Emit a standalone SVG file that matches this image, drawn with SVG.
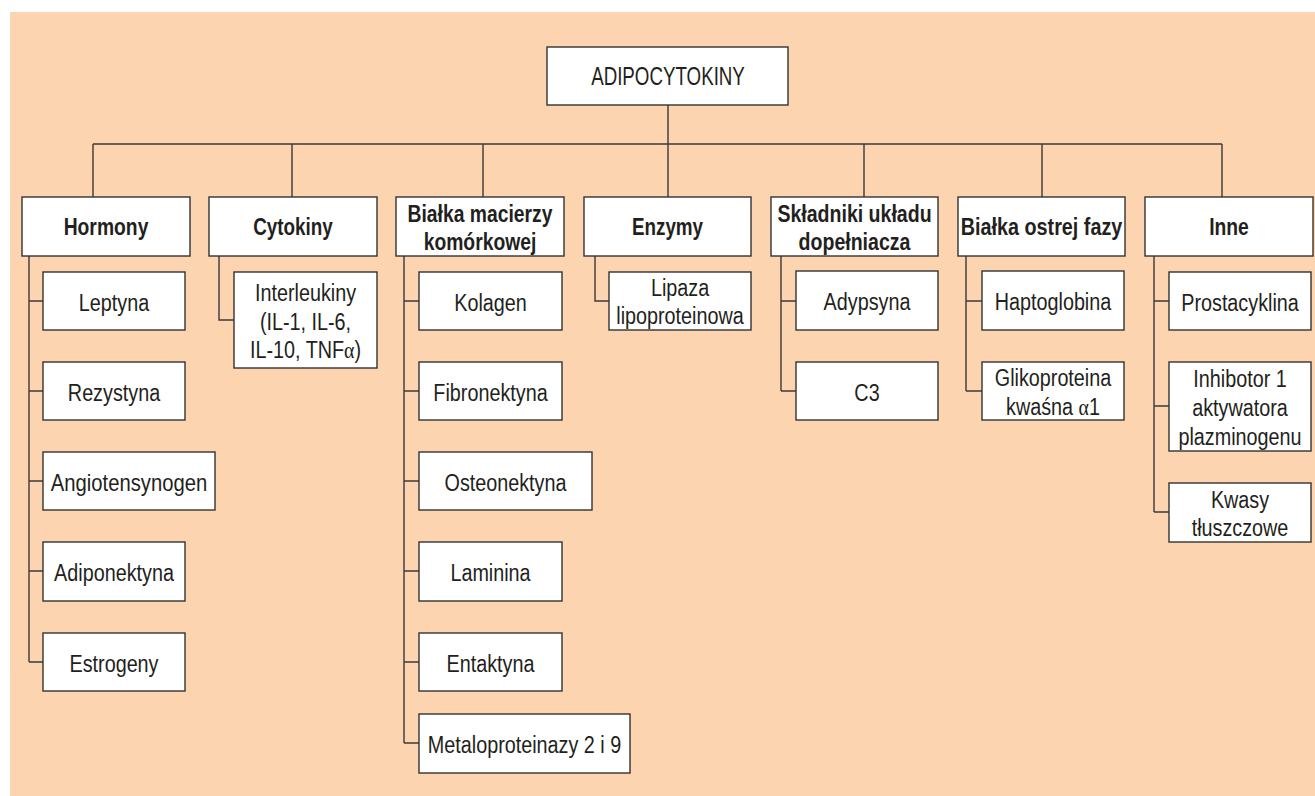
<svg xmlns="http://www.w3.org/2000/svg" width="1315" height="796" viewBox="0 0 1315 796">
<style>
.bg{fill:#FCD4B0}
.box{fill:#fff;stroke:#333;stroke-width:1.4}
.ln{fill:none;stroke:#3a3a3a;stroke-width:1.4}
text{font-family:"Liberation Sans",Arial,sans-serif;fill:#231f20;text-anchor:middle}
.t{font-size:23px}
.b{font-size:23px;font-weight:bold}
.r{font-size:25px}
.g{font-family:"Liberation Serif",serif}
</style>
<rect class="bg" x="10" y="12" width="1305" height="784"/>
<g id="connectors">
<path class="ln" d="M668 105V144M93 144H1222M93 144V197M292 144V197M483 144V197M668 144V197M864 144V197M1042 144V197M1222 144V197"/>
<path class="ln" d="M29 256V662M29 301H43M29 391H43M29 481H43M29 571H43M29 662H43"/>
<path class="ln" d="M219 256V320H234"/>
<path class="ln" d="M404 256V743M404 301H419M404 391H419M404 481H419M404 571H419M404 662H419M404 743H419"/>
<path class="ln" d="M595 256V301H609"/>
<path class="ln" d="M781 256V391M781 301H796M781 391H796"/>
<path class="ln" d="M966 256V391M966 301H982M966 391H982"/>
<path class="ln" d="M1154 256V512M1154 301H1169M1154 406H1169M1154 512H1169"/>
</g>
<g id="root"><rect class="box" x="547" y="47" width="241" height="58"/><text class="r" transform="translate(668 85) scale(0.75 1)">ADIPOCYTOKINY</text></g>
<g id="cat-hormony"><rect class="box" x="22" y="197" width="168" height="59"/><text class="b" transform="translate(106 235) scale(0.84 1)">Hormony</text></g>
<g id="cat-cytokiny"><rect class="box" x="209" y="197" width="168" height="59"/><text class="b" transform="translate(293 235) scale(0.82 1)">Cytokiny</text></g>
<g id="cat-bialka-macierzy"><rect class="box" x="396" y="197" width="168" height="59"/><text class="b" transform="translate(480 221.5) scale(0.84 1)">Białka macierzy</text><text class="b" transform="translate(480 249.5) scale(0.84 1)">komórkowej</text></g>
<g id="cat-enzymy"><rect class="box" x="584" y="197" width="167" height="59"/><text class="b" transform="translate(667.5 235) scale(0.82 1)">Enzymy</text></g>
<g id="cat-skladniki"><rect class="box" x="771" y="197" width="167" height="59"/><text class="b" transform="translate(854.5 221.5) scale(0.85 1)">Składniki układu</text><text class="b" transform="translate(854.5 249.5) scale(0.85 1)">dopełniacza</text></g>
<g id="cat-bialka-ostrej"><rect class="box" x="958" y="197" width="167" height="59"/><text class="b" transform="translate(1041.5 235) scale(0.86 1)">Białka ostrej fazy</text></g>
<g id="cat-inne"><rect class="box" x="1145" y="197" width="168" height="59"/><text class="b" transform="translate(1229 235) scale(0.84 1)">Inne</text></g>

<g id="leptyna"><rect class="box" x="43" y="272" width="142" height="58"/><text class="t" transform="translate(114 310.5) scale(0.86 1)">Leptyna</text></g>
<g id="rezystyna"><rect class="box" x="43" y="362" width="142" height="58"/><text class="t" transform="translate(114 400.5) scale(0.86 1)">Rezystyna</text></g>
<g id="angiotensynogen"><rect class="box" x="43" y="452" width="172" height="58"/><text class="t" transform="translate(129 490.5) scale(0.88 1)">Angiotensynogen</text></g>
<g id="adiponektyna"><rect class="box" x="43" y="542" width="142" height="59"/><text class="t" transform="translate(114 580.5) scale(0.86 1)">Adiponektyna</text></g>
<g id="estrogeny"><rect class="box" x="43" y="633" width="142" height="58"/><text class="t" transform="translate(114 671.5) scale(0.86 1)">Estrogeny</text></g>

<g id="interleukiny"><rect class="box" x="234" y="272" width="143" height="96"/><text class="t" transform="translate(305.5 301) scale(0.86 1)">Interleukiny</text><text class="t" transform="translate(305.5 329.5) scale(0.86 1)">(IL-1, IL-6,</text><text class="t" transform="translate(305.5 358) scale(0.86 1)">IL-10, TNF<tspan class="g">α</tspan>)</text></g>

<g id="kolagen"><rect class="box" x="419" y="272" width="143" height="58"/><text class="t" transform="translate(490.5 310.5) scale(0.86 1)">Kolagen</text></g>
<g id="fibronektyna"><rect class="box" x="419" y="362" width="143" height="58"/><text class="t" transform="translate(490.5 400.5) scale(0.86 1)">Fibronektyna</text></g>
<g id="osteonektyna"><rect class="box" x="419" y="452" width="173" height="58"/><text class="t" transform="translate(505.5 490.5) scale(0.86 1)">Osteonektyna</text></g>
<g id="laminina"><rect class="box" x="419" y="542" width="143" height="59"/><text class="t" transform="translate(490.5 580.5) scale(0.86 1)">Laminina</text></g>
<g id="entaktyna"><rect class="box" x="419" y="633" width="143" height="58"/><text class="t" transform="translate(490.5 671.5) scale(0.86 1)">Entaktyna</text></g>
<g id="metaloproteinazy"><rect class="box" x="419" y="714" width="211" height="59"/><text class="t" transform="translate(524.5 752.5) scale(0.86 1)">Metaloproteinazy 2 i 9</text></g>

<g id="lipaza"><rect class="box" x="609" y="272" width="142" height="58"/><text class="t" transform="translate(680 296) scale(0.86 1)">Lipaza</text><text class="t" transform="translate(680 324) scale(0.86 1)">lipoproteinowa</text></g>

<g id="adypsyna"><rect class="box" x="796" y="271" width="142" height="59"/><text class="t" transform="translate(867 310) scale(0.86 1)">Adypsyna</text></g>
<g id="c3"><rect class="box" x="796" y="362" width="142" height="58"/><text class="t" transform="translate(867 400.5) scale(0.86 1)">C3</text></g>

<g id="haptoglobina"><rect class="box" x="982" y="271" width="142" height="59"/><text class="t" transform="translate(1053 310) scale(0.86 1)">Haptoglobina</text></g>
<g id="glikoproteina"><rect class="box" x="982" y="362" width="142" height="58"/><text class="t" transform="translate(1053 386) scale(0.86 1)">Glikoproteina</text><text class="t" transform="translate(1053 414.5) scale(0.86 1)">kwaśna <tspan class="g">α</tspan>1</text></g>

<g id="prostacyklina"><rect class="box" x="1169" y="272" width="142" height="58"/><text class="t" transform="translate(1240 310.5) scale(0.86 1)">Prostacyklina</text></g>
<g id="inhibitor"><rect class="box" x="1169" y="362" width="142" height="89"/><text class="t" transform="translate(1240 387) scale(0.86 1)">Inhibotor 1</text><text class="t" transform="translate(1240 416) scale(0.86 1)">aktywatora</text><text class="t" transform="translate(1240 445) scale(0.86 1)">plazminogenu</text></g>
<g id="kwasy"><rect class="box" x="1169" y="483" width="142" height="59"/><text class="t" transform="translate(1240 508) scale(0.86 1)">Kwasy</text><text class="t" transform="translate(1240 536) scale(0.86 1)">tłuszczowe</text></g>
</svg>
